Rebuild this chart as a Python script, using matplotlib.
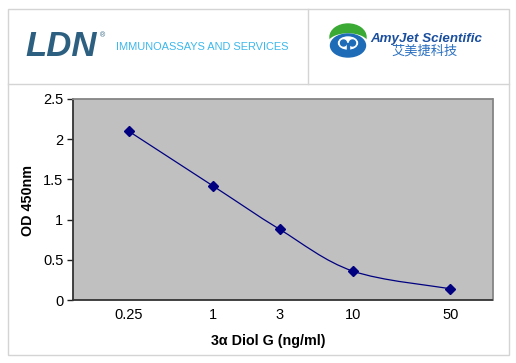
import numpy as np
import matplotlib
matplotlib.use("Agg")
import matplotlib.pyplot as plt
from matplotlib.path import Path
from matplotlib.patches import PathPatch, Rectangle, Ellipse

# data
concentrations = [0.25, 1, 3, 10, 50]
tick_labels = ["0.25", "1", "3", "10", "50"]
od_values = [2.1, 1.42, 0.88, 0.36, 0.14]

W, H = 516, 363


def fx(px):
    return px / W


def fy(py):
    return 1 - py / H


def smooth_path(xs, ys):
    """Excel-like smoothed line: cubic beziers through the points in (log x, y) space"""
    u = np.log10(xs)
    y = np.asarray(ys, dtype=float)
    pts = np.column_stack([u, y])
    n = len(pts)
    verts = [pts[0]]
    codes = [Path.MOVETO]
    for i in range(n - 1):
        p_prev = pts[max(i - 1, 0)]
        p0 = pts[i]
        p1 = pts[i + 1]
        p_next = pts[min(i + 2, n - 1)]
        c1 = p0 + (p1 - p_prev) / 6
        c2 = p1 - (p_next - p0) / 6
        verts += [c1, c2, p1]
        codes += [Path.CURVE4] * 3
    verts = np.array(verts)
    verts[:, 0] = 10 ** verts[:, 0]
    return Path(verts, codes)


plt.rcParams['font.family'] = ['Liberation Sans', 'DejaVu Sans']

fig = plt.figure(figsize=(W / 100, H / 100), dpi=100)

# frames around header and chart
frame = "#d4d4d4"
fig.patches.append(Rectangle((fx(8), fy(355)), fx(509) - fx(8), fy(9) - fy(355),
                             transform=fig.transFigure, fill=False, ec=frame, lw=1))
fig.lines.append(plt.Line2D([fx(8), fx(509)], [fy(84), fy(84)], transform=fig.transFigure,
                            color=frame, lw=1))
fig.lines.append(plt.Line2D([fx(308), fx(308)], [fy(9), fy(84)], transform=fig.transFigure,
                            color=frame, lw=1))

# LDN logo
fig.text(fx(25), fy(47), "LDN", fontsize=25, fontweight="bold", fontstyle="italic",
         color="#2c5f80", va="center", ha="left")
fig.text(fx(100), fy(36), "®", fontsize=5, color="#2c5f80", va="center", ha="left")
fig.text(fx(116), fy(47.5), "IMMUNOASSAYS AND SERVICES", fontsize=7.9,
         color="#3bb8ec", va="center", ha="left")

# AmyJet logo icon, drawn in a small pixel-sized box
icon = fig.add_axes([fx(328), fy(58), fx(368) - fx(328), fy(23) - fy(58)])
icon.set_xlim(0, 40)
icon.set_ylim(0, 35)
icon.axis("off")
green, blue = "#3aaa35", "#1e6bb8"
icon.add_patch(Ellipse((20, 21), 36, 26, color=green))
icon.add_patch(Ellipse((20, 14), 40, 20, color="white"))
icon.add_patch(Ellipse((20, 12.5), 35, 23, color=blue))
icon.add_patch(Ellipse((20, 15), 19, 12, color="white"))
icon.add_patch(Ellipse((15.5, 15), 6, 6, color=blue))
icon.add_patch(Ellipse((24.5, 15), 6, 6, color=blue))
icon.add_patch(Rectangle((18.6, 3), 2.8, 12, color=blue))

fig.text(fx(370), fy(39), "AmyJet Scientific", fontsize=9.6, fontweight="bold",
         fontstyle="italic", color="#1b4f9e", va="center", ha="left")
fig.text(fx(424.5), fy(51.5), "艾美捷科技", fontsize=9.5, color="#2a6fc0", va="center",
         ha="center", family=["Noto Sans CJK SC", "DejaVu Sans"])

# chart
ax = fig.add_axes([fx(73), fy(300), fx(492.5) - fx(73), fy(99) - fy(300)])
ax.set_facecolor("#c0c0c0")
ax.set_xscale("log")
ax.set_xlim(0.1, 100)
ax.set_ylim(0, 2.5)

ax.add_patch(PathPatch(smooth_path(concentrations, od_values), fill=False,
                       ec="#000080", lw=0.9))
ax.plot(concentrations, od_values, ls="none", marker="D", ms=5.2, color="#000080")

ax.set_xticks(concentrations)
ax.set_xticklabels(tick_labels)
ax.xaxis.set_minor_locator(matplotlib.ticker.NullLocator())
ax.set_yticks([0, 0.5, 1, 1.5, 2, 2.5])
ax.set_yticklabels(["0", "0.5", "1", "1.5", "2", "2.5"])
ax.tick_params(axis="x", length=0, pad=6, labelsize=10.5, colors="#000000")
ax.tick_params(axis="y", length=4, width=1, pad=3, labelsize=10.5, direction="out",
               color="#222222")

for side in ["left", "bottom"]:
    ax.spines[side].set_color("#333333")
    ax.spines[side].set_linewidth(1.3)
for side in ["top", "right"]:
    ax.spines[side].set_color("#858585")
    ax.spines[side].set_linewidth(1.3)

fig.text(fx(28), fy(200), "OD 450nm", rotation=90, fontsize=10.3, fontweight="bold",
         va="center", ha="center")
fig.text(fx(268), fy(341), "3α Diol G (ng/ml)", fontsize=10.3, fontweight="bold",
         va="center", ha="center")

fig.savefig("out.png", dpi=100)
